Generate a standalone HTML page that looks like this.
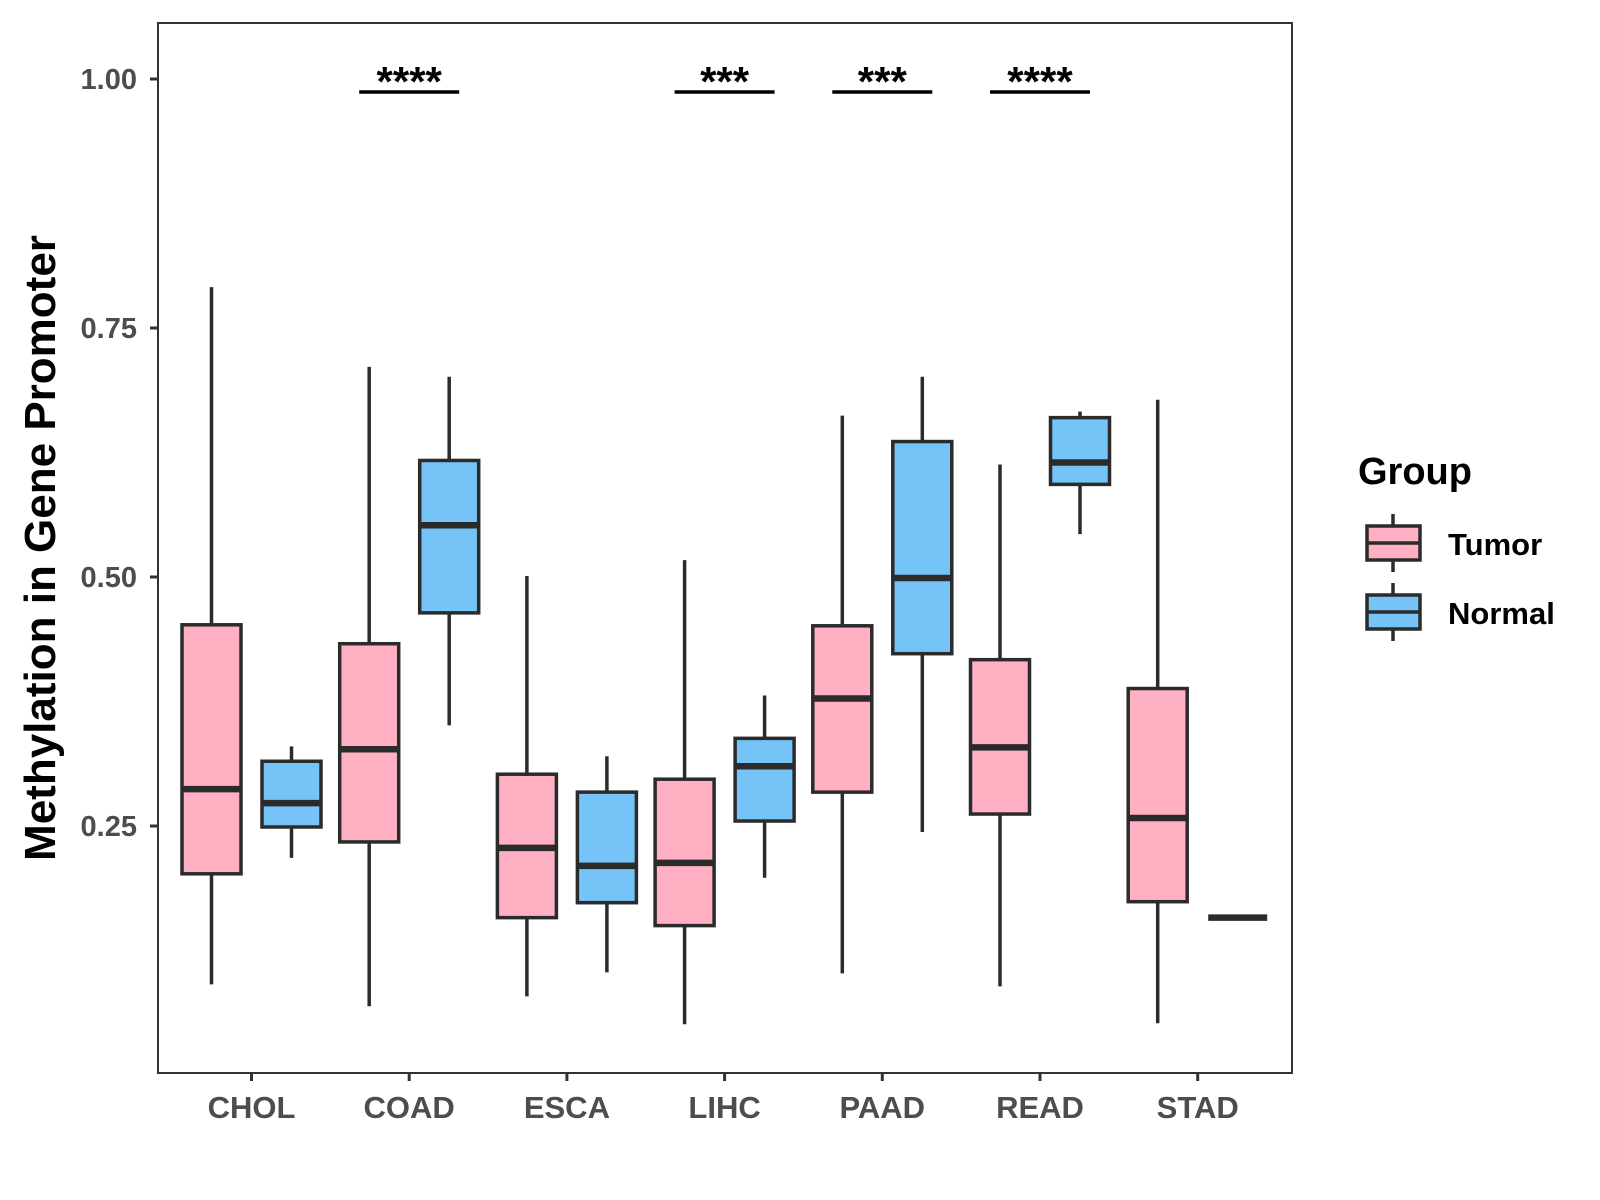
<!DOCTYPE html>
<html><head><meta charset="utf-8"><style>
body{margin:0;background:#fff;}
svg{display:block;font-family:"Liberation Sans",Arial,sans-serif;}
</style></head><body>
<svg id="chart" width="1600" height="1200" viewBox="0 0 1600 1200">
<rect x="0" y="0" width="1600" height="1200" fill="#fff"/>
<g id="plot"></g>
<rect x="158" y="23" width="1134" height="1050" fill="none" stroke="#333" stroke-width="2"/>
<text transform="translate(55,548) rotate(-90)" text-anchor="middle" font-size="44" font-weight="bold" fill="#000">Methylation in Gene Promoter</text>
<g>
<text x="1358" y="484" font-size="38" font-weight="bold" fill="#000">Group</text>
<g>
<line x1="1393" y1="514" x2="1393" y2="572" stroke="#2b2b2b" stroke-width="3.5"/>
<rect x="1367" y="526" width="53" height="34" fill="#FFB1C3" stroke="#2b2b2b" stroke-width="3.5"/>
<line x1="1367" y1="543" x2="1420" y2="543" stroke="#2b2b2b" stroke-width="3.5"/>
<text x="1448" y="555" font-size="31" font-weight="bold" fill="#000">Tumor</text>
</g>
<g>
<line x1="1393" y1="583" x2="1393" y2="641" stroke="#2b2b2b" stroke-width="3.5"/>
<rect x="1367" y="595" width="53" height="34" fill="#76C3F8" stroke="#2b2b2b" stroke-width="3.5"/>
<line x1="1367" y1="612" x2="1420" y2="612" stroke="#2b2b2b" stroke-width="3.5"/>
<text x="1448" y="624" font-size="31" font-weight="bold" fill="#000">Normal</text>
</g>
</g>
</svg>
<script>
const categories=["CHOL","COAD","ESCA","LIHC","PAAD","READ","STAD"];
const tumorLow=[0.091,0.069,0.079,0.051,0.102,0.089,0.052];
const tumorQ1=[0.202,0.234,0.158,0.150,0.284,0.262,0.174];
const tumorMed=[0.287,0.327,0.228,0.213,0.378,0.329,0.258];
const tumorQ3=[0.452,0.433,0.302,0.297,0.451,0.417,0.388];
const tumorHigh=[0.791,0.711,0.501,0.517,0.662,0.613,0.678];
const normalLow=[0.218,0.351,0.103,0.198,0.244,0.543,0.158];
const normalQ1=[0.249,0.464,0.173,0.255,0.423,0.593,0.158];
const normalMed=[0.273,0.552,0.210,0.310,0.499,0.615,0.158];
const normalQ3=[0.315,0.617,0.284,0.338,0.636,0.660,0.158];
const normalHigh=[0.330,0.701,0.320,0.381,0.701,0.666,0.158];
const sigLabels=["","****","","***","***","****",""];
const yTicks=[0.25,0.50,0.75,1.00];
const yTickLabels=["0.25","0.50","0.75","1.00"];

const NS="http://www.w3.org/2000/svg";
const g=document.getElementById("plot");
function y(v){return 79+(1-v)*996;}
function x(i){return 251.5+i*157.7;}
function mk(tag,attrs,parent){const e=document.createElementNS(NS,tag);for(const k in attrs)e.setAttribute(k,attrs[k]);(parent||g).appendChild(e);return e;}

yTicks.forEach((t,i)=>{
  const tk=mk("line",{x1:150,x2:158,y1:y(t),y2:y(t),stroke:"#333","stroke-width":3});
  
  
  const tl=mk("text",{x:137,y:y(t)+10,"text-anchor":"end","font-size":29,"font-weight":"bold",fill:"#4d4d4d"});
  tl.textContent=yTickLabels[i];
  
  
});
categories.forEach((c,i)=>{
  const tk=mk("line",{x1:x(i),x2:x(i),y1:1073,y2:1081,stroke:"#333","stroke-width":3});
  
  
  const tl=mk("text",{x:x(i),y:1118,"text-anchor":"middle","font-size":31,"font-weight":"bold",fill:"#4d4d4d"});
  tl.textContent=c;
  
  
});
function box(cx,lo,q1,md,q3,hi,fill,name){
  const grp=mk("g",{});
  
  
  mk("line",{x1:cx,x2:cx,y1:y(hi),y2:y(lo),stroke:"#2b2b2b","stroke-width":3.5},grp);
  const h=Math.max(y(q1)-y(q3),0);
  if(h>0) mk("rect",{x:cx-29.5,y:y(q3),width:59,height:h,fill:fill,stroke:"#2b2b2b","stroke-width":3.5},grp);
  mk("line",{x1:cx-29.5,x2:cx+29.5,y1:y(md),y2:y(md),stroke:"#2b2b2b","stroke-width":6.5},grp);
}
categories.forEach((c,i)=>{
  box(x(i)-40,tumorLow[i],tumorQ1[i],tumorMed[i],tumorQ3[i],tumorHigh[i],"#FFB1C3","box-tumor-"+c.toLowerCase());
  box(x(i)+40,normalLow[i],normalQ1[i],normalMed[i],normalQ3[i],normalHigh[i],"#76C3F8","box-normal-"+c.toLowerCase());
  if(sigLabels[i]){
    const b=mk("line",{x1:x(i)-50,x2:x(i)+50,y1:92,y2:92,stroke:"#000","stroke-width":3.5});
    
    
    const t=mk("text",{x:x(i),y:96,"text-anchor":"middle","font-size":42,"font-weight":"bold",fill:"#000"});
    t.textContent=sigLabels[i];
    
    
  }
});
</script>
</body></html>
